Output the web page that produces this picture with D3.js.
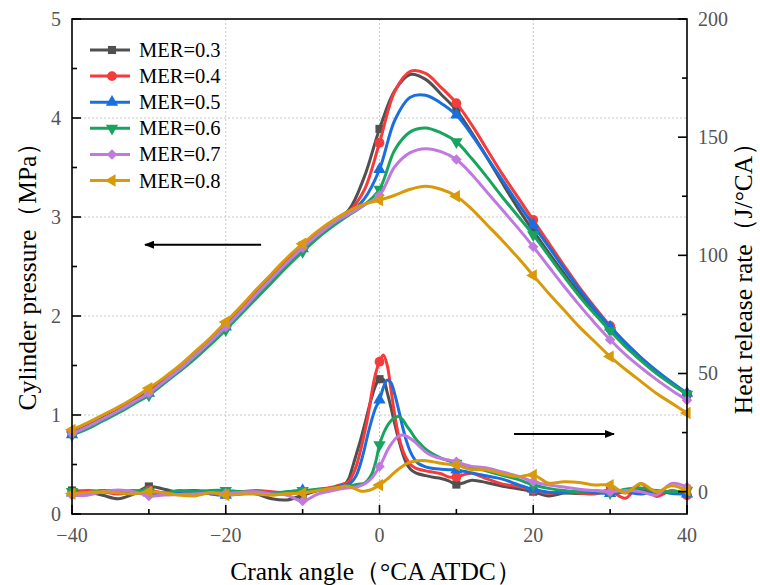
<!DOCTYPE html>
<html><head><meta charset="utf-8">
<script src="https://cdn.jsdelivr.net/npm/d3@7"></script>
<style>body{margin:0;background:#fff} text{font-family:"Liberation Serif","Times New Roman",serif}</style>
</head><body><svg id="c" width="760" height="585"></svg>
<script>
// ---------- data ----------
const seriesNames = ["MER=0.3","MER=0.4","MER=0.5","MER=0.6","MER=0.7","MER=0.8"];
const seriesColors = ["#505050","#F53B3B","#1A6FDF","#18A45E","#C07ADF","#D99A0A"];
const seriesShapes = ["square","circle","triUp","triDown","diamond","triLeft"];

// cylinder pressure (MPa), crank angle step 2
const pAngle = [-40,-38,-36,-34,-32,-30,-28,-26,-24,-22,-20,-18,-16,-14,-12,-10,-8,-6,-4,-2,0,2,4,6,8,10,12,14,16,18,20,22,24,26,28,30,32,34,36,38,40];
const p03 = [0.82,0.89,0.97,1.05,1.14,1.24,1.36,1.48,1.62,1.76,1.91,2.07,2.24,2.40,2.56,2.71,2.84,2.96,3.07,3.40,3.89,4.28,4.44,4.39,4.24,4.08,3.85,3.60,3.34,3.09,2.86,2.64,2.43,2.23,2.05,1.88,1.72,1.57,1.44,1.32,1.21];
const p04 = [0.81,0.88,0.96,1.04,1.13,1.23,1.35,1.47,1.61,1.75,1.90,2.06,2.23,2.39,2.55,2.70,2.83,2.94,3.05,3.27,3.75,4.27,4.47,4.45,4.31,4.15,3.93,3.68,3.43,3.20,2.97,2.74,2.51,2.29,2.09,1.90,1.73,1.58,1.44,1.32,1.21];
const p05 = [0.80,0.87,0.95,1.03,1.12,1.22,1.34,1.46,1.60,1.74,1.89,2.05,2.21,2.37,2.53,2.68,2.81,2.93,3.03,3.18,3.48,3.98,4.21,4.23,4.15,4.03,3.83,3.60,3.37,3.14,2.92,2.70,2.48,2.27,2.07,1.89,1.73,1.58,1.45,1.33,1.22];
const p06 = [0.80,0.86,0.94,1.02,1.11,1.20,1.32,1.44,1.57,1.71,1.86,2.02,2.18,2.34,2.50,2.65,2.79,2.91,3.02,3.12,3.28,3.68,3.86,3.90,3.85,3.76,3.59,3.40,3.20,3.01,2.82,2.61,2.40,2.20,2.02,1.85,1.69,1.55,1.42,1.31,1.21];
const p07 = [0.81,0.88,0.96,1.04,1.13,1.22,1.34,1.46,1.60,1.74,1.89,2.05,2.22,2.38,2.54,2.69,2.82,2.94,3.03,3.12,3.22,3.51,3.65,3.69,3.66,3.58,3.43,3.25,3.07,2.89,2.70,2.50,2.30,2.11,1.93,1.76,1.61,1.48,1.36,1.25,1.15];
const p08 = [0.85,0.92,1.00,1.08,1.17,1.27,1.38,1.50,1.64,1.78,1.94,2.10,2.27,2.43,2.59,2.73,2.86,2.97,3.06,3.13,3.17,3.22,3.28,3.31,3.28,3.21,3.08,2.92,2.76,2.59,2.41,2.23,2.06,1.89,1.74,1.59,1.46,1.34,1.22,1.12,1.02];

// heat release rate (J/°CA)
const hAngle = [-40,-38,-36,-34,-32,-30,-28,-26,-24,-22,-20,-18,-16,-14,-12,-10,-8,-6,-5,-4.5,-4,-3.5,-3,-2.5,-2,-1.5,-1,-0.5,0,0.5,1,1.5,2,2.5,3,3.5,4,4.5,5,6,7,8,9,10,11,12,14,16,18,20,22,24,26,28,30,32,34,36,38,40];
const h03 = [0.5,0,-1.5,-3,-1,2.2,1,-0.5,-1,-0.5,-0.5,0,-1,-3,-3.5,-1.5,0.5,1.5,2.5,3.2,5.5,10.5,16,21.5,27.5,34,40,45,47.6,47.5,42,35.5,28.5,22,16.3,12,9.6,8.3,7.6,6.8,6.1,5.6,4.6,3,3.8,4.8,3.8,2.3,1.2,0,-1.8,-0.6,-0.8,0,0.3,-0.5,0.5,-0.3,0.2,-0.5];
const h04 = [-0.5,0.5,0,-1,0,0.5,-0.5,0,0.5,0,-0.5,0,0.5,0,-0.5,0,1,2,3,3.5,4.2,7,11,17,24,32,42,50,55,57.8,53.5,43,32,23.5,17.7,14,11.6,10.3,9.6,8.8,8.2,7.6,6.2,6.2,7.2,7.8,5.4,3.2,2.2,0.7,-0.7,0,-0.6,-1,0.2,-2.8,3.3,-2,0.5,-1.5];
const h05 = [-0.5,-1,0.5,0,-0.5,-0.5,-1,0,0.5,-1,-1.5,-1,-0.5,-1,0,0.5,0.5,1.5,2.5,2.8,3.2,4.5,7,11.5,17.5,24.5,30.5,35.5,38.8,44,47.2,46,41,34.5,27.5,21.5,17,14,12,10.5,9.8,9.5,9.3,9.2,8.6,7.9,6.6,5.3,3,1,-0.2,-0.5,0,-0.5,-0.8,-0.2,-1,0.3,-0.8,-1];
const h06 = [0,-0.5,0.5,0,0.5,0,-0.5,0.5,0,0.5,0.5,0,0,-0.5,0,0.5,1,1.5,2,2.2,2.5,2.7,3,3.2,3.5,5,7.5,12.5,19.8,24.5,27.8,30,31.3,31.8,30.5,28,25.8,23.3,21.2,18,15.8,14.2,13,12,11.1,10.3,8.7,6.9,5.2,2.8,1.4,0.5,0,0.5,-0.5,1,1.5,0.5,0,0.5];
const h07 = [-1.5,-1.5,0,0.7,0,-1.8,-1.4,-1.2,-1,-0.5,-0.7,-0.3,0,-1,-1.5,-4,-1,0.5,1.2,1.4,1.6,1.8,2,2.5,3.2,4.3,5.8,8,10.6,13.8,17.3,20,22.2,23.5,24,23.5,22.5,21.3,19.8,16.8,15,14,13.4,12.7,11.5,10.7,10,8.3,6.6,4.2,2.8,2,1,0.5,0,0.5,0,-1.4,3.5,2];
const h08 = [-0.9,-0.3,0,-0.5,-1,0,-0.5,-1.5,-1.8,-0.5,-1.4,-1,-1,-1.5,-0.8,-0.6,0.5,1.5,2,2.4,2.2,1.6,1,0.3,0.2,0.5,1,1.8,2.8,4,5.3,6.8,8.3,9.6,10.8,11.8,12.5,12.9,13.1,13.1,12.6,12,11.6,11.3,10.2,9.3,9.2,7.5,6.4,7.1,3.6,4.2,3.9,2.8,2.8,-0.5,3.5,0,2.5,0.5];

const xMajor = [-40,-20,0,20,40];
const xMinor = [-30,-10,10,30];
const yLMajor = [0,1,2,3,4,5];
const yLMinor = [0.5,1.5,2.5,3.5,4.5];
const yRMajor = [0,50,100,150,200];
const yRMinor = [25,75,125,175];

const pSeries = [p03,p04,p05,p06,p07,p08];
const hSeries = [h03,h04,h05,h06,h07,h08];

// ---------- drawing ----------
const svg = d3.select("#c");
const L = 72, R = 687, T = 19, B = 514;
const x = d3.scaleLinear().domain([-40,40]).range([L,R]);
const yL = d3.scaleLinear().domain([0,5]).range([B,T]);
const yR = d3.scaleLinear().domain([-9.45,200]).range([B,T]);

// grid
const grid = svg.append("g").attr("stroke","#c8c8c8").attr("stroke-width",1).attr("stroke-dasharray","2,2");
[-20,0,20].forEach(v=>grid.append("line").attr("x1",x(v)).attr("x2",x(v)).attr("y1",T).attr("y2",B));
[1,2,3,4].forEach(v=>grid.append("line").attr("x1",L).attr("x2",R).attr("y1",yL(v)).attr("y2",yL(v)));

function symPath(shape){
  const m = {square:[d3.symbolSquare,66,0], circle:[d3.symbolCircle,75,0], triUp:[d3.symbolTriangle,66,0],
             triDown:[d3.symbolTriangle,66,180], diamond:[d3.symbolSquare,55,45], triLeft:[d3.symbolTriangle,66,-90]}[shape];
  return {d: d3.symbol().type(m[0]).size(m[1])(), rot:m[2]};
}

const line = (ys) => d3.line().curve(d3.curveCatmullRom.alpha(0.5)).x(d=>x(d[0])).y(d=>ys(d[1]));

const plot = svg.append("g");
for (let i=0;i<6;i++){
  const col = seriesColors[i];
  const pd = pAngle.map((a,k)=>[a,pSeries[i][k]]);
  const hd = hAngle.map((a,k)=>[a,hSeries[i][k]]);
  plot.append("path").datum(pd).attr("d",line(yL)).attr("fill","none").attr("stroke",col).attr("stroke-width",3).attr("stroke-linejoin","round");
  plot.append("path").datum(hd).attr("d",line(yR)).attr("fill","none").attr("stroke",col).attr("stroke-width",3).attr("stroke-linejoin","round");
  const sp = symPath(seriesShapes[i]);
  pd.filter(d=>d[0]%10===0).forEach(d=>{
    plot.append("path").attr("d",sp.d).attr("fill",col).attr("transform",`translate(${x(d[0])},${yL(d[1])}) rotate(${sp.rot})`);
  });
  hd.filter(d=>d[0]%10===0).forEach(d=>{
    plot.append("path").attr("d",sp.d).attr("fill",col).attr("transform",`translate(${x(d[0])},${yR(d[1])}) rotate(${sp.rot})`);
  });
}

// frame
svg.append("rect").attr("x",L).attr("y",T).attr("width",R-L).attr("height",B-T).attr("fill","none").attr("stroke","#000").attr("stroke-width",1.6);

// ticks (inward)
const tk = svg.append("g").attr("stroke","#000").attr("stroke-width",1.6);
xMajor.forEach(v=>tk.append("line").attr("x1",x(v)).attr("x2",x(v)).attr("y1",B).attr("y2",B-9));
xMinor.forEach(v=>tk.append("line").attr("x1",x(v)).attr("x2",x(v)).attr("y1",B).attr("y2",B-5));
yLMajor.forEach(v=>tk.append("line").attr("x1",L).attr("x2",L+9).attr("y1",yL(v)).attr("y2",yL(v)));
yLMinor.forEach(v=>tk.append("line").attr("x1",L).attr("x2",L+5).attr("y1",yL(v)).attr("y2",yL(v)));
yRMajor.forEach(v=>tk.append("line").attr("x1",R).attr("x2",R-9).attr("y1",yR(v)).attr("y2",yR(v)));
yRMinor.forEach(v=>tk.append("line").attr("x1",R).attr("x2",R-5).attr("y1",yR(v)).attr("y2",yR(v)));

// tick labels
const lab = svg.append("g").attr("font-size",20).attr("fill","#555");
xMajor.forEach(v=>lab.append("text").attr("x",x(v)).attr("y",B+28).attr("text-anchor","middle").text(v<0?"\u2212"+(-v):v));
yLMajor.forEach(v=>lab.append("text").attr("x",L-11).attr("y",yL(v)+7).attr("text-anchor","end").text(v));
yRMajor.forEach(v=>lab.append("text").attr("x",R+11).attr("y",yR(v)+7).attr("text-anchor","start").text(v));

// axis titles
const tf = svg.append("g").attr("font-size",25.5).attr("fill","#000");
tf.append("text").attr("x",376).attr("y",580).attr("text-anchor","middle").text("Crank angle\uFF08°CA ATDC\uFF09");
tf.append("text").attr("transform","translate(36,270) rotate(-90)").attr("text-anchor","middle").text("Cylinder pressure\uFF08MPa\uFF09");
tf.append("text").attr("transform","translate(752,272) rotate(-90)").attr("text-anchor","middle").text("Heat release rate\uFF08J/°CA\uFF09");

// legend
const lg = svg.append("g");
seriesNames.forEach((n,i)=>{
  const yy = 50 + i*26.1;
  lg.append("line").attr("x1",90).attr("x2",130).attr("y1",yy).attr("y2",yy).attr("stroke",seriesColors[i]).attr("stroke-width",3);
  const sp = symPath(seriesShapes[i]);
  lg.append("path").attr("d",sp.d).attr("fill",seriesColors[i]).attr("transform",`translate(112,${yy}) rotate(${sp.rot})`);
  lg.append("text").attr("x",139).attr("y",yy+7).attr("font-size",20.5).attr("fill","#000").text(n);
});

// arrows
const defs = svg.append("defs");
defs.append("marker").attr("id","ah").attr("viewBox","0 0 10 8").attr("refX",9).attr("refY",4)
  .attr("markerWidth",10).attr("markerHeight",8).attr("markerUnits","userSpaceOnUse").attr("orient","auto")
  .append("path").attr("d","M0,0L10,4L0,8Z").attr("fill","#000");
svg.append("line").attr("x1",x(-15.4)).attr("x2",x(-30.5)).attr("y1",yL(2.72)).attr("y2",yL(2.72)).attr("stroke","#000").attr("stroke-width",2).attr("marker-end","url(#ah)");
svg.append("line").attr("x1",x(17.5)).attr("x2",x(30.5)).attr("y1",yR(24.4)).attr("y2",yR(24.4)).attr("stroke","#000").attr("stroke-width",2).attr("marker-end","url(#ah)");
</script></body></html>
